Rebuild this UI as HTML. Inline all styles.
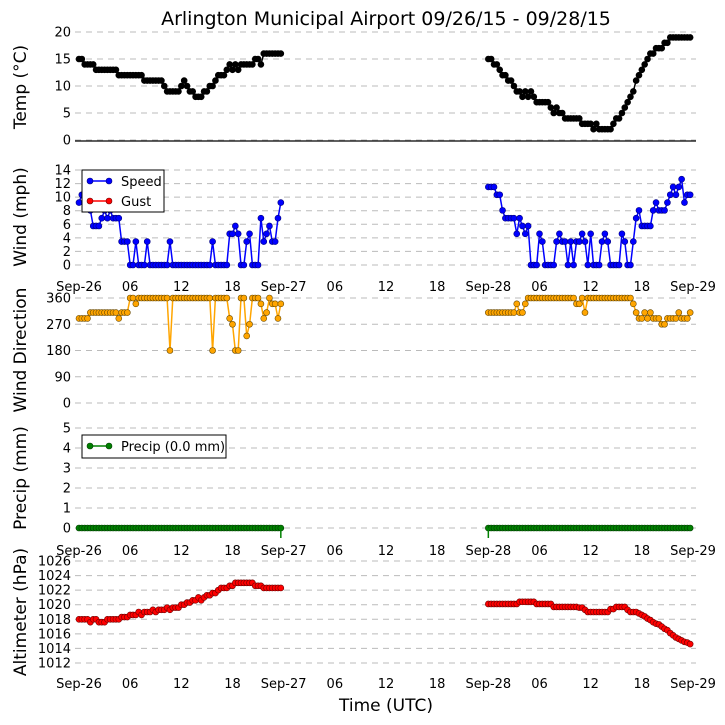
<!DOCTYPE html>
<html><head><meta charset="utf-8"><style>
html,body{margin:0;padding:0;background:#fff;}
svg{display:block;font-family:"DejaVu Sans","Liberation Sans",sans-serif;}
</style></head><body>
<svg id="chart" width="725" height="725" viewBox="0 0 725 725">
<text x="386" y="25" font-size="19" text-anchor="middle">Arlington Municipal Airport 09/26/15 - 09/28/15</text>
<text x="386" y="711" font-size="17" text-anchor="middle">Time (UTC)</text>
</svg>
<script>
// ---- data ----
const segStarts = [0, 48];
const tempSeg1 = [15,15,14,14,14,14,13,13,13,13,13,13,13,13,12,12,12,12,12,12,12,12,12,11,11,11,11,11,11,11,10,9,9,9,9,9,10,11,10,9,9,8,8,8,9,9,10,10,11,12,12,12,13,14,13,14,13,14,14,14,14,14,15,15,14,16,16,16,16,16,16,16];
const tempSeg2 = [15,15,14,14,13,12,12,11,11,10,9,9,8,9,8,9,8,7,7,7,7,7,6,5,6,5,5,4,4,4,4,4,4,3,3,3,3,2,3,2,2,2,2,2,3,4,4,5,6,7,8,9,11,12,13,14,15,16,16,17,17,17,18,18,19,19,19,19,19,19,19,19];
const windSeg1 = [9.2,10.35,9.2,9.2,8.05,5.75,5.75,5.75,6.9,8.05,6.9,8.05,6.9,6.9,6.9,3.45,3.45,3.45,0,0,3.45,0,0,0,3.45,0,0,0,0,0,0,0,3.45,0,0,0,0,0,0,0,0,0,0,0,0,0,0,3.45,0,0,0,0,0,4.6,4.6,5.75,4.6,0,0,3.45,4.6,0,0,0,6.9,3.45,4.6,5.75,3.45,3.45,6.9,9.2];
const windSeg2 = [11.5,11.5,11.5,10.35,10.35,8.05,6.9,6.9,6.9,6.9,4.6,6.9,5.75,4.6,5.75,0,0,0,4.6,3.45,0,0,0,0,3.45,4.6,3.45,3.45,0,3.45,0,3.45,3.45,4.6,3.45,0,4.6,0,0,0,3.45,4.6,3.45,0,0,0,0,4.6,3.45,0,0,3.45,6.9,8.05,5.75,5.75,5.75,5.75,8.05,9.2,8.05,8.05,8.05,9.2,10.35,11.5,10.35,11.5,12.65,9.2,10.35,10.35];
const dirSeg1 = [290,290,290,290,310,310,310,310,310,310,310,310,310,310,290,310,310,310,360,360,340,360,360,360,360,360,360,360,360,360,360,360,180,360,360,360,360,360,360,360,360,360,360,360,360,360,360,180,360,360,360,360,360,290,270,180,180,360,360,230,270,360,360,360,340,290,310,360,340,340,290,340];
const dirSeg2 = [310,310,310,310,310,310,310,310,310,310,340,310,310,340,360,360,360,360,360,360,360,360,360,360,360,360,360,360,360,360,360,340,340,360,310,360,360,360,360,360,360,360,360,360,360,360,360,360,360,360,360,340,310,290,290,310,290,310,290,290,290,270,270,290,290,290,290,310,290,290,290,310];
const precipSeg1 = new Array(72).fill(0);
const precipSeg2 = new Array(72).fill(0);
const altSeg1 = [1018.0,1018.0,1018.0,1018.0,1017.6,1018.0,1018.0,1017.6,1017.6,1017.6,1018.0,1018.0,1018.0,1018.0,1018.0,1018.3,1018.3,1018.3,1018.6,1018.6,1018.6,1019.0,1018.6,1019.0,1019.0,1019.0,1019.3,1019.0,1019.3,1019.3,1019.3,1019.6,1019.3,1019.6,1019.6,1019.6,1020.0,1020.0,1020.3,1020.3,1020.6,1020.6,1021.0,1020.6,1021.0,1021.3,1021.3,1021.6,1021.6,1022.0,1022.3,1022.3,1022.3,1022.6,1022.6,1023.0,1023.0,1023.0,1023.0,1023.0,1023.0,1023.0,1022.6,1022.6,1022.6,1022.3,1022.3,1022.3,1022.3,1022.3,1022.3,1022.3];
const altSeg2 = [1020.1,1020.1,1020.1,1020.1,1020.1,1020.1,1020.1,1020.1,1020.1,1020.1,1020.1,1020.4,1020.4,1020.4,1020.4,1020.4,1020.4,1020.1,1020.1,1020.1,1020.1,1020.1,1020.1,1019.7,1019.7,1019.7,1019.7,1019.7,1019.7,1019.7,1019.7,1019.7,1019.6,1019.6,1019.3,1019.0,1019.0,1019.0,1019.0,1019.0,1019.0,1019.0,1019.0,1019.4,1019.4,1019.7,1019.7,1019.7,1019.7,1019.3,1019.0,1019.0,1019.0,1018.8,1018.6,1018.4,1018.1,1017.9,1017.6,1017.4,1017.3,1017.0,1016.7,1016.5,1016.1,1015.8,1015.5,1015.3,1015.1,1014.9,1014.8,1014.6];
const xTickLabels = ["Sep-26","06","12","18","Sep-27","06","12","18","Sep-28","06","12","18","Sep-29"];
const tempTicks = [0,5,10,15,20];
const windTicks = [0,2,4,6,8,10,12,14];
const dirTicks = [0,90,180,270,360];
const precipTicks = [0,1,2,3,4,5];
const altTicks = [1012,1014,1016,1018,1020,1022,1024,1026];

// ---- axes ----
const NS = "http://www.w3.org/2000/svg";
const svg = document.getElementById('chart');
const X0 = 79, X1 = 693;
function xScale(h){ return X0 + (X1 - X0) * h / 72; }
function lin(v0, y0, v1, y1){ return v => y0 + (v - v0) * (y1 - y0) / (v1 - v0); }
const panels = [
  {name:'temp', label:'Temp (\u00B0C)', ly:87, y:lin(0,140,20,32), ticks:tempTicks, segs:[tempSeg1,tempSeg2], color:'#000', edge:'#000'},
  {name:'wind', label:'Wind (mph)', ly:217, y:lin(0,265,14,170), ticks:windTicks, segs:[windSeg1,windSeg2], color:'#0000ff', edge:'#000080'},
  {name:'direction', label:'Wind Direction', ly:350, y:lin(0,403,360,298), ticks:dirTicks, segs:[dirSeg1,dirSeg2], color:'#ffa500', edge:'#6b4a00'},
  {name:'precip', label:'Precip (mm)', ly:478, y:lin(0,528,5,428), ticks:precipTicks, segs:[precipSeg1,precipSeg2], color:'#008000', edge:'#004000'},
  {name:'altimeter', label:'Altimeter (hPa)', ly:612, y:lin(1012,663,1026,561), ticks:altTicks, segs:[altSeg1,altSeg2], color:'#ff0000', edge:'#700000'}
];
function mk(tag, attrs){ const e = document.createElementNS(NS, tag); for (const k in attrs) e.setAttribute(k, attrs[k]); svg.appendChild(e); return e; }

panels.forEach(p => {
  p.ticks.forEach(t => {
    const y = p.y(t);
    const g = mk('line', {x1:75, x2:696, y1:y, y2:y, stroke:'#bbbbbb', 'stroke-width':1, 'stroke-dasharray':'6,5'});
    
    
    const tl = mk('text', {x:71, y:y + 4.5, 'font-size':13, 'text-anchor':'end'});
    tl.textContent = t;
    
    
  });
  const yl = mk('text', {x:0, y:0, 'font-size':17, 'text-anchor':'middle', transform:'translate(26,' + p.ly + ') rotate(-90)'});
  yl.textContent = p.label;
  
  
  p.segs.forEach((vals, si) => {
    const pts = vals.map((v, i) => [xScale(segStarts[si] + i / 3), p.y(v)]);
    const pl = mk('polyline', {points: pts.map(q => q[0].toFixed(1) + ',' + q[1].toFixed(1)).join(' '), fill:'none', stroke:p.color, 'stroke-width':1.5});
    
    
    pts.forEach(q => {
      const c = mk('circle', {cx:q[0], cy:q[1], r:3, fill:p.color, stroke:p.edge, 'stroke-width':0.6});
      
      
    });
  });
});

// temp baseline
const bl = mk('line', {x1:75, x2:696, y1:141, y2:141, stroke:'#000', 'stroke-width':1.2});



// precip stems at segment ends
[xScale(71/3), xScale(48)].forEach(x => {
  const s = mk('line', {x1:x, x2:x, y1:528, y2:538, stroke:'#008000', 'stroke-width':1.5});
  
  
});

// x tick labels
[291, 555, 688].forEach(yy => {
  xTickLabels.forEach((lab, i) => {
    const t = mk('text', {x:xScale(i * 6), y:yy, 'font-size':13, 'text-anchor':'middle'});
    t.textContent = lab;
    
    
  });
});

// legends
function legend(x, y, w, h, entries, nm){
  const r = mk('rect', {x:x, y:y, width:w, height:h, fill:'#fff', stroke:'#000', 'stroke-width':1});
  
  
  entries.forEach((e, i) => {
    const yy = y + 11 + i * 20;
    const l = mk('line', {x1:x + 8, x2:x + 27, y1:yy, y2:yy, stroke:e.c, 'stroke-width':1.5});
    
    
    [x + 8, x + 27].forEach(cx => {
      const c = mk('circle', {cx:cx, cy:yy, r:3, fill:e.c, stroke:e.ed, 'stroke-width':0.6});
      
      
    });
    const t = mk('text', {x:x + 39, y:yy + 5, 'font-size':13});
    t.textContent = e.t;
    
    
  });
}
legend(82, 170, 82, 42, [{t:'Speed', c:'#0000ff', ed:'#000080'}, {t:'Gust', c:'#ff0000', ed:'#700000'}], 'wind-legend');
legend(82, 435, 144, 23, [{t:'Precip (0.0 mm)', c:'#008000', ed:'#004000'}], 'precip-legend');
</script>
</body></html>
